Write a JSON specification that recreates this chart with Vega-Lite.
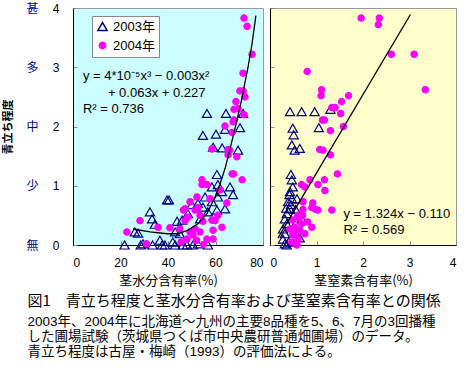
{
  "$schema": "https://vega.github.io/schema/vega-lite/v6.json",
  "padding": {"left": 2, "top": 1, "right": 2, "bottom": 0},
  "background": "white",
  "config": {
    "font": "Liberation Sans, Noto Sans CJK JP",
    "concat": {"spacing": 5},
    "view": {"stroke": "#999"},
    "axis": {"grid": false, "domainColor": "black", "tickColor": "#888", "labelColor": "black", "labelFontSize": 12, "labelFont": "Liberation Sans", "titleFont": "Noto Sans CJK JP", "titleFontSize": 13, "titleFontWeight": "normal", "titleColor": "black"}
  },
  "title": {
    "text": "図1　青立ち程度と茎水分含有率および茎窒素含有率との関係",
    "subtitle": ["　2003年、2004年に北海道～九州の主要8品種を5、6、7月の3回播種", "した圃場試験（茨城県つくば市中央農研普通畑圃場）のデータ。", "青立ち程度は古屋・梅崎（1993）の評価法による。"],
    "orient": "bottom", "anchor": "start", "frame": "bounds",
    "font": "Noto Sans CJK JP", "fontSize": 15, "fontWeight": "normal", "color": "black",
    "subtitleFont": "Liberation Sans, Noto Sans CJK JP", "subtitleFontSize": 13.5, "subtitleColor": "black", "subtitlePadding": 6, "subtitleLineHeight": 15,
    "offset": 6, "dx": 25
  },
  "resolve": {"scale": {"shape": "independent", "fill": "independent", "stroke": "independent", "size": "independent"}},
  "datasets": {
    "left": [
      {"year": "2003年", "x": 21.7, "y": 0}, {"year": "2003年", "x": 28.5, "y": 0}, {"year": "2003年", "x": 29.5, "y": 0.02},
      {"year": "2003年", "x": 33.5, "y": 0}, {"year": "2003年", "x": 36.6, "y": 0.08}, {"year": "2003年", "x": 37.5, "y": 0},
      {"year": "2003年", "x": 38.7, "y": 0}, {"year": "2003年", "x": 42, "y": 0.05}, {"year": "2003年", "x": 43, "y": 0},
      {"year": "2003年", "x": 46.3, "y": 0}, {"year": "2003年", "x": 48, "y": 0}, {"year": "2003年", "x": 50.5, "y": 0},
      {"year": "2003年", "x": 52.6, "y": 0.02}, {"year": "2003年", "x": 56.8, "y": 0}, {"year": "2003年", "x": 26, "y": 0.22},
      {"year": "2003年", "x": 27.4, "y": 0.2}, {"year": "2003年", "x": 32.4, "y": 0.56}, {"year": "2003年", "x": 33.3, "y": 0.44},
      {"year": "2003年", "x": 34.5, "y": 0.35}, {"year": "2003年", "x": 39.6, "y": 0.76}, {"year": "2003年", "x": 40.4, "y": 0.76},
      {"year": "2003年", "x": 43, "y": 0.22}, {"year": "2003年", "x": 43.8, "y": 0.4}, {"year": "2003年", "x": 45, "y": 0.19},
      {"year": "2003年", "x": 46, "y": 0.42}, {"year": "2003年", "x": 48.4, "y": 0.53}, {"year": "2003年", "x": 50, "y": 0.68},
      {"year": "2003年", "x": 52.6, "y": 0.7}, {"year": "2003年", "x": 53.5, "y": 0.44}, {"year": "2003年", "x": 54.7, "y": 0.64},
      {"year": "2003年", "x": 55.6, "y": 0.81}, {"year": "2003年", "x": 56.8, "y": 0.56}, {"year": "2003年", "x": 58.5, "y": 0.73},
      {"year": "2003年", "x": 58.5, "y": 0.98}, {"year": "2003年", "x": 60.6, "y": 0.59}, {"year": "2003年", "x": 61, "y": 0.81},
      {"year": "2003年", "x": 61, "y": 1.02}, {"year": "2003年", "x": 60.6, "y": 1.19}, {"year": "2003年", "x": 62.7, "y": 0.9},
      {"year": "2003年", "x": 64, "y": 0.61}, {"year": "2003年", "x": 66.1, "y": 0.98}, {"year": "2003年", "x": 67.4, "y": 0.85},
      {"year": "2003年", "x": 54.7, "y": 1.85}, {"year": "2003年", "x": 60.2, "y": 1.87}, {"year": "2003年", "x": 59, "y": 1.65},
      {"year": "2003年", "x": 62.8, "y": 1.64}, {"year": "2003年", "x": 64, "y": 1.95}, {"year": "2003年", "x": 70.3, "y": 1.98},
      {"year": "2003年", "x": 69.5, "y": 1.6}, {"year": "2003年", "x": 56.4, "y": 2.22}, {"year": "2003年", "x": 64.4, "y": 2.22},
      {"year": "2003年", "x": 71.6, "y": 2.22},
      {"year": "2004年", "x": 22.7, "y": 0.22}, {"year": "2004年", "x": 28.2, "y": 0.41}, {"year": "2004年", "x": 31, "y": 0.02},
      {"year": "2004年", "x": 35.8, "y": 0.3}, {"year": "2004年", "x": 40.8, "y": 0.29}, {"year": "2004年", "x": 45, "y": 0.27},
      {"year": "2004年", "x": 47.2, "y": 0.41}, {"year": "2004年", "x": 46.5, "y": 0.59}, {"year": "2004年", "x": 48.4, "y": 0.47},
      {"year": "2004年", "x": 49.3, "y": 0.22}, {"year": "2004年", "x": 48, "y": 0.1}, {"year": "2004年", "x": 50.5, "y": 0.17},
      {"year": "2004年", "x": 52, "y": 0.08}, {"year": "2004年", "x": 51.4, "y": 0.27}, {"year": "2004年", "x": 53.5, "y": 0.22},
      {"year": "2004年", "x": 56.4, "y": 0.1}, {"year": "2004年", "x": 59, "y": 0.1}, {"year": "2004年", "x": 59, "y": 0.25},
      {"year": "2004年", "x": 59.8, "y": 0.41}, {"year": "2004年", "x": 62.7, "y": 0.3}, {"year": "2004年", "x": 61, "y": 0.5},
      {"year": "2004年", "x": 51.4, "y": 0.59}, {"year": "2004年", "x": 49.3, "y": 0.73}, {"year": "2004年", "x": 47.2, "y": 0.61},
      {"year": "2004年", "x": 52.2, "y": 0.81}, {"year": "2004年", "x": 52.6, "y": 0.63}, {"year": "2004年", "x": 53.5, "y": 0.5},
      {"year": "2004年", "x": 54.7, "y": 0.4}, {"year": "2004年", "x": 58.5, "y": 0.42}, {"year": "2004年", "x": 64.8, "y": 0.71},
      {"year": "2004年", "x": 57.7, "y": 0.78}, {"year": "2004年", "x": 54.3, "y": 1.1}, {"year": "2004年", "x": 54.3, "y": 1.02},
      {"year": "2004年", "x": 56.4, "y": 1.02}, {"year": "2004年", "x": 61.9, "y": 0.93}, {"year": "2004年", "x": 67, "y": 1.2},
      {"year": "2004年", "x": 67.6, "y": 1.2}, {"year": "2004年", "x": 71.2, "y": 1.1}, {"year": "2004年", "x": 58.5, "y": 1.62},
      {"year": "2004年", "x": 65.3, "y": 1.61}, {"year": "2004年", "x": 65.3, "y": 1.52}, {"year": "2004年", "x": 69, "y": 1.49},
      {"year": "2004年", "x": 66, "y": 1.6}, {"year": "2004年", "x": 67, "y": 1.9}, {"year": "2004年", "x": 64, "y": 2.01},
      {"year": "2004年", "x": 67.4, "y": 2.08}, {"year": "2004年", "x": 72, "y": 3.83}, {"year": "2004年", "x": 73.3, "y": 3.69},
      {"year": "2004年", "x": 75.4, "y": 3.22}, {"year": "2004年", "x": 71.6, "y": 2.9}, {"year": "2004年", "x": 70.3, "y": 2.6},
      {"year": "2004年", "x": 71.6, "y": 2.6}, {"year": "2004年", "x": 72.4, "y": 2.5}, {"year": "2004年", "x": 68.6, "y": 2.42},
      {"year": "2004年", "x": 69.5, "y": 2.3}, {"year": "2004年", "x": 67.8, "y": 2.29}, {"year": "2004年", "x": 72, "y": 2.2},
      {"year": "2004年", "x": 67.8, "y": 2.11}, {"year": "2004年", "x": 55, "y": 0.01}, {"year": "2004年", "x": 45.5, "y": 0.05}
    ],
    "leftfit": [
      {"x": 25.3, "y": 0.27}, {"x": 32.4, "y": 0.22}, {"x": 39.6, "y": 0.19}, {"x": 44.2, "y": 0.19},
      {"x": 48.4, "y": 0.25}, {"x": 52.6, "y": 0.36}, {"x": 56.4, "y": 0.53}, {"x": 59.8, "y": 0.81},
      {"x": 61.9, "y": 1.03}, {"x": 64, "y": 1.29}, {"x": 66, "y": 1.6}, {"x": 67.5, "y": 1.85},
      {"x": 69, "y": 2.1}, {"x": 70.7, "y": 2.4}, {"x": 72.2, "y": 2.7}, {"x": 73.7, "y": 3.0},
      {"x": 75.4, "y": 3.4}, {"x": 77, "y": 3.87}
    ],
    "right": [
      {"year": "2003年", "x": 0.43, "y": 2.25}, {"year": "2003年", "x": 0.68, "y": 2.25}, {"year": "2003年", "x": 0.96, "y": 2.25},
      {"year": "2003年", "x": 1.3, "y": 2.29}, {"year": "2003年", "x": 0.49, "y": 1.97}, {"year": "2003年", "x": 1.05, "y": 1.98},
      {"year": "2003年", "x": 0.51, "y": 1.86}, {"year": "2003年", "x": 0.47, "y": 1.69}, {"year": "2003年", "x": 0.64, "y": 1.63},
      {"year": "2003年", "x": 0.53, "y": 1.6}, {"year": "2003年", "x": 0.45, "y": 1.19}, {"year": "2003年", "x": 0.47, "y": 1.1},
      {"year": "2003年", "x": 0.49, "y": 0.98}, {"year": "2003年", "x": 0.43, "y": 0.9}, {"year": "2003年", "x": 0.47, "y": 0.78},
      {"year": "2003年", "x": 0.39, "y": 0.73}, {"year": "2003年", "x": 0.45, "y": 0.68}, {"year": "2003年", "x": 0.43, "y": 0.61},
      {"year": "2003年", "x": 0.36, "y": 0.53}, {"year": "2003年", "x": 0.32, "y": 0.44}, {"year": "2003年", "x": 0.36, "y": 0.36},
      {"year": "2003年", "x": 0.28, "y": 0.27}, {"year": "2003年", "x": 0.32, "y": 0.19}, {"year": "2003年", "x": 0.28, "y": 0.1},
      {"year": "2003年", "x": 0.36, "y": 0}, {"year": "2003年", "x": 0.32, "y": 0.02}, {"year": "2003年", "x": 0.64, "y": 0.12},
      {"year": "2003年", "x": 0.68, "y": 0.44}, {"year": "2003年", "x": 0.58, "y": 0.78}, {"year": "2003年", "x": 0.4, "y": 0.05},
      {"year": "2003年", "x": 0.5, "y": 0.3}, {"year": "2003年", "x": 0.55, "y": 0.6}, {"year": "2003年", "x": 0.42, "y": 0.85},
      {"year": "2003年", "x": 0.35, "y": 0.62},
      {"year": "2004年", "x": 1.96, "y": 3.83}, {"year": "2004年", "x": 2.35, "y": 3.83}, {"year": "2004年", "x": 2.33, "y": 3.72},
      {"year": "2004年", "x": 2.61, "y": 3.22}, {"year": "2004年", "x": 3.1, "y": 3.22}, {"year": "2004年", "x": 0.8, "y": 2.93},
      {"year": "2004年", "x": 1.11, "y": 2.62}, {"year": "2004年", "x": 1.1, "y": 2.52}, {"year": "2004年", "x": 1.69, "y": 2.52},
      {"year": "2004年", "x": 1.54, "y": 2.42}, {"year": "2004年", "x": 3.34, "y": 2.62}, {"year": "2004年", "x": 1.33, "y": 2.32},
      {"year": "2004年", "x": 1.4, "y": 2.32}, {"year": "2004年", "x": 1.52, "y": 2.22}, {"year": "2004年", "x": 1.13, "y": 2.11},
      {"year": "2004年", "x": 1.17, "y": 2.11}, {"year": "2004年", "x": 1.58, "y": 2.0}, {"year": "2004年", "x": 1.3, "y": 1.93},
      {"year": "2004年", "x": 1.07, "y": 1.61}, {"year": "2004年", "x": 1.14, "y": 1.6}, {"year": "2004年", "x": 1.3, "y": 1.52},
      {"year": "2004年", "x": 1.45, "y": 1.2}, {"year": "2004年", "x": 1.17, "y": 1.1}, {"year": "2004年", "x": 1.03, "y": 1.02},
      {"year": "2004年", "x": 0.68, "y": 1.02}, {"year": "2004年", "x": 0.86, "y": 1.1}, {"year": "2004年", "x": 0.75, "y": 0.98},
      {"year": "2004年", "x": 1.18, "y": 0.92}, {"year": "2004年", "x": 0.92, "y": 0.71}, {"year": "2004年", "x": 0.98, "y": 0.6},
      {"year": "2004年", "x": 1.33, "y": 0.59}, {"year": "2004年", "x": 1.03, "y": 0.59}, {"year": "2004年", "x": 0.9, "y": 0.63},
      {"year": "2004年", "x": 0.71, "y": 0.73}, {"year": "2004年", "x": 0.71, "y": 0.6}, {"year": "2004年", "x": 0.6, "y": 0.5},
      {"year": "2004年", "x": 0.49, "y": 0.42}, {"year": "2004年", "x": 0.68, "y": 0.36}, {"year": "2004年", "x": 0.81, "y": 0.39},
      {"year": "2004年", "x": 0.53, "y": 0.3}, {"year": "2004年", "x": 0.9, "y": 0.3}, {"year": "2004年", "x": 0.64, "y": 0.25},
      {"year": "2004年", "x": 0.43, "y": 0.27}, {"year": "2004年", "x": 0.75, "y": 0.19}, {"year": "2004年", "x": 0.49, "y": 0.17},
      {"year": "2004年", "x": 0.6, "y": 0.1}, {"year": "2004年", "x": 0.47, "y": 0.05}, {"year": "2004年", "x": 0.58, "y": 0},
      {"year": "2004年", "x": 0.55, "y": 0.2}, {"year": "2004年", "x": 0.62, "y": 0.45}, {"year": "2004年", "x": 0.7, "y": 0.5}
    ],
    "rightfit": [{"x": 0.17, "y": 0.115}, {"x": 3.02, "y": 3.89}]
  },
  "hconcat": [
    {
      "width": 190, "height": 237,
      "view": {"fill": "#CCFFFF", "stroke": "#999"},
      "resolve": {"axis": {"y": "independent"}},
      "layer": [
        {
          "data": {"name": "left"},
          "mark": {"type": "point", "strokeWidth": 1.2, "opacity": 1},
          "encoding": {
            "x": {"field": "x", "type": "quantitative", "scale": {"domain": [0, 80], "nice": false},
                  "axis": {"values": [0, 20, 40, 60, 80], "title": "茎水分含有率(%)", "tickSize": -4, "labelPadding": 16, "titlePadding": 6}},
            "y": {"field": "y", "type": "quantitative", "scale": {"domain": [0, 4], "nice": false},
                  "axis": {"orient": "left", "values": [0, 1, 2, 3, 4], "title": null, "tickSize": -4, "labelPadding": 18}},
            "shape": {"field": "year", "type": "nominal", "scale": {"domain": ["2003年", "2004年"], "range": ["triangle-up", "circle"]},
                      "legend": {"title": null, "orient": "none", "legendX": 19, "legendY": 8, "fillColor": "white", "strokeColor": "#888", "padding": 4, "labelFontSize": 13, "labelFont": "Liberation Sans, Noto Sans CJK JP", "rowPadding": 5, "labelColor": "black"}},
            "fill": {"field": "year", "type": "nominal", "scale": {"domain": ["2003年", "2004年"], "range": ["transparent", "#FF00FF"]},
                      "legend": {"title": null, "orient": "none", "legendX": 19, "legendY": 8, "fillColor": "white", "strokeColor": "#888", "padding": 4, "labelFontSize": 13, "labelFont": "Liberation Sans, Noto Sans CJK JP", "rowPadding": 5, "labelColor": "black"}},
            "stroke": {"field": "year", "type": "nominal", "scale": {"domain": ["2003年", "2004年"], "range": ["#000080", "#FF00FF"]},
                      "legend": {"title": null, "orient": "none", "legendX": 19, "legendY": 8, "fillColor": "white", "strokeColor": "#888", "padding": 4, "labelFontSize": 13, "labelFont": "Liberation Sans, Noto Sans CJK JP", "rowPadding": 5, "labelColor": "black"}},
            "size": {"field": "year", "type": "nominal", "scale": {"domain": ["2003年", "2004年"], "range": [85, 40]},
                      "legend": {"title": null, "orient": "none", "legendX": 19, "legendY": 8, "fillColor": "white", "strokeColor": "#888", "padding": 4, "labelFontSize": 13, "labelFont": "Liberation Sans, Noto Sans CJK JP", "rowPadding": 5, "labelColor": "black"}}
          }
        },
        {
          "data": {"name": "leftfit"},
          "mark": {"type": "line", "color": "black", "strokeWidth": 1.3},
          "encoding": {
            "x": {"field": "x", "type": "quantitative"},
            "y": {"field": "y", "type": "quantitative",
                  "axis": {"orient": "left", "values": [0, 1, 2, 3, 4], "labelExpr": "['無','少','中','多','甚'][datum.value]", "labelColor": "#000099", "labelFont": "Noto Sans CJK JP", "labelFontSize": 12, "ticks": false, "domain": false, "labelPadding": 35, "title": "青立ち程度", "titleFont": "Noto Sans CJK JP", "titleFontSize": 11, "titleFontWeight": "bold", "titlePadding": 12}}
          }
        },
        {
          "data": {"values": [{"label": "y = 4*10⁻⁵x³ − 0.003x²"}]},
          "mark": {"type": "text", "align": "left", "baseline": "middle", "fontSize": 13, "font": "Liberation Sans", "color": "black"},
          "encoding": {"x": {"datum": 4.2, "type": "quantitative"}, "y": {"datum": 2.85, "type": "quantitative", "axis": null}, "text": {"field": "label"}}
        },
        {
          "data": {"values": [{"label": "+ 0.063x + 0.227"}]},
          "mark": {"type": "text", "align": "left", "baseline": "middle", "fontSize": 13, "font": "Liberation Sans", "color": "black"},
          "encoding": {"x": {"datum": 14.7, "type": "quantitative"}, "y": {"datum": 2.56, "type": "quantitative", "axis": null}, "text": {"field": "label"}}
        },
        {
          "data": {"values": [{"label": "R² = 0.736"}]},
          "mark": {"type": "text", "align": "left", "baseline": "middle", "fontSize": 13, "font": "Liberation Sans", "color": "black"},
          "encoding": {"x": {"datum": 4.2, "type": "quantitative"}, "y": {"datum": 2.29, "type": "quantitative", "axis": null}, "text": {"field": "label"}}
        }
      ]
    },
    {
      "width": 186, "height": 237,
      "view": {"fill": "#FFFFCC", "stroke": "#999"},
      "layer": [
        {
          "data": {"name": "right"},
          "mark": {"type": "point", "strokeWidth": 1.2, "opacity": 1},
          "encoding": {
            "x": {"field": "x", "type": "quantitative", "scale": {"domain": [0, 4], "nice": false},
                  "axis": {"values": [0, 1, 2, 3, 4], "title": "茎窒素含有率(%)", "tickSize": -4, "labelPadding": 16, "titlePadding": 6}},
            "y": {"field": "y", "type": "quantitative", "scale": {"domain": [0, 4], "nice": false},
                  "axis": {"values": [0, 1, 2, 3, 4], "title": null, "labels": false, "tickSize": -4}},
            "shape": {"field": "year", "type": "nominal", "scale": {"domain": ["2003年", "2004年"], "range": ["triangle-up", "circle"]}, "legend": null},
            "fill": {"field": "year", "type": "nominal", "scale": {"domain": ["2003年", "2004年"], "range": ["transparent", "#FF00FF"]}, "legend": null},
            "stroke": {"field": "year", "type": "nominal", "scale": {"domain": ["2003年", "2004年"], "range": ["#000080", "#FF00FF"]}, "legend": null},
            "size": {"field": "year", "type": "nominal", "scale": {"domain": ["2003年", "2004年"], "range": [85, 40]}, "legend": null}
          }
        },
        {
          "data": {"name": "rightfit"},
          "mark": {"type": "line", "color": "black", "strokeWidth": 1.3},
          "encoding": {"x": {"field": "x", "type": "quantitative"}, "y": {"field": "y", "type": "quantitative"}}
        },
        {
          "data": {"values": [{"label": "y = 1.324x − 0.110"}]},
          "mark": {"type": "text", "align": "left", "baseline": "middle", "fontSize": 13, "font": "Liberation Sans", "color": "black"},
          "encoding": {"x": {"datum": 1.58, "type": "quantitative"}, "y": {"datum": 0.53, "type": "quantitative"}, "text": {"field": "label"}}
        },
        {
          "data": {"values": [{"label": "R² = 0.569"}]},
          "mark": {"type": "text", "align": "left", "baseline": "middle", "fontSize": 13, "font": "Liberation Sans", "color": "black"},
          "encoding": {"x": {"datum": 1.58, "type": "quantitative"}, "y": {"datum": 0.25, "type": "quantitative"}, "text": {"field": "label"}}
        }
      ]
    }
  ]
}
